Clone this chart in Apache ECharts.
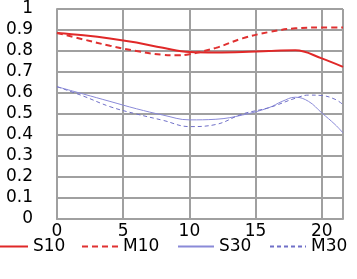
<!DOCTYPE html>
<html><head><meta charset="utf-8">
<script src="https://cdn.jsdelivr.net/npm/echarts@6/dist/echarts.min.js"></script>
<style>html,body{margin:0;padding:0;background:#fff}#c{width:357px;height:279px}</style>
</head><body><div id="c"></div>
<script>
const seriesNames = ['S10', 'M10', 'S30', 'M30'];
const s10X = [0, 2, 4, 6, 8, 10, 12, 14, 16, 18, 20, 21.6];
const s10Y = [0.886, 0.875, 0.86, 0.84, 0.815, 0.795, 0.793, 0.795, 0.8, 0.803, 0.765, 0.724];
const m10X = [0, 2, 4, 6, 8, 9, 10, 12, 14, 16, 18, 20, 21.6];
const m10Y = [0.886, 0.855, 0.825, 0.8, 0.782, 0.78, 0.785, 0.815, 0.86, 0.89, 0.908, 0.912, 0.912];
const s30X = [0, 2, 4, 6, 8, 10, 12, 14, 16, 17, 18, 19, 20, 21, 21.6];
const s30Y = [0.63, 0.595, 0.56, 0.525, 0.495, 0.472, 0.475, 0.495, 0.53, 0.56, 0.58, 0.56, 0.505, 0.45, 0.41];
const m30X = [0, 2, 4, 6, 8, 10, 12, 14, 16, 18, 19, 20, 21, 21.6];
const m30Y = [0.63, 0.585, 0.535, 0.5, 0.47, 0.44, 0.45, 0.5, 0.53, 0.575, 0.59, 0.588, 0.57, 0.545];
const xTicks = [0, 5, 10, 15, 20];
const yTicks = [0, 0.1, 0.2, 0.3, 0.4, 0.5, 0.6, 0.7, 0.8, 0.9, 1];

const pairs = (xs, ys) => xs.map((x, i) => [x, ys[i]]);
const font = 'DejaVu Sans';
const grid = '#a0a0a0';
function line(name, xs, ys, color, width, type) {
  return { name, type: 'line', data: pairs(xs, ys), smooth: 0.4, symbol: 'none', showSymbol: false,
    lineStyle: { color, width, type }, itemStyle: { color } };
}
const legendLefts = [-9, 81, 177, 269];
const legends = seriesNames.map((n, i) => ({
  data: [n], left: legendLefts[i], top: 238, itemWidth: 36, itemHeight: 14, padding: 0,
  itemStyle: { opacity: 0 },
  textStyle: { color: '#000', fontFamily: font, fontSize: 17 }
}));
const chart = echarts.init(document.getElementById('c'), null, { renderer: 'canvas' });
chart.setOption({
  animation: false,
  grid: { left: 57, right: 14, top: 9, bottom: 60 },
  xAxis: { type: 'value', min: 0, max: 21.6, interval: 5,
    axisLine: { lineStyle: { color: grid, width: 2 } }, axisTick: { show: false },
    splitLine: { show: true, lineStyle: { color: grid, width: 2 } },
    axisLabel: { showMaxLabel: false, color: '#000', fontFamily: font, fontSize: 17, margin: 4,
      formatter: v => xTicks.includes(v) ? String(v) : '' } },
  yAxis: { type: 'value', min: 0, max: 1, interval: 0.1,
    axisLine: { show: true, lineStyle: { color: grid, width: 2 } }, axisTick: { show: false },
    splitLine: { show: true, lineStyle: { color: grid, width: 2 } },
    axisLabel: { color: '#000', fontFamily: font, fontSize: 17, margin: 24,
      formatter: v => { const t = yTicks.find(k => Math.abs(k - v) < 1e-6); return t === undefined ? '' : String(+t.toFixed(1)); } } },
  legend: legends,
  series: [
    line('S10', s10X, s10Y, '#e02828', 2, 'solid'),
    line('M10', m10X, m10Y, '#e03030', 2, [6, 4]),
    line('S30', s30X, s30Y, '#8a8ad8', 1, 'solid'),
    line('M30', m30X, m30Y, '#7070c8', 1, [4, 3])
  ]
});
</script></body></html>
